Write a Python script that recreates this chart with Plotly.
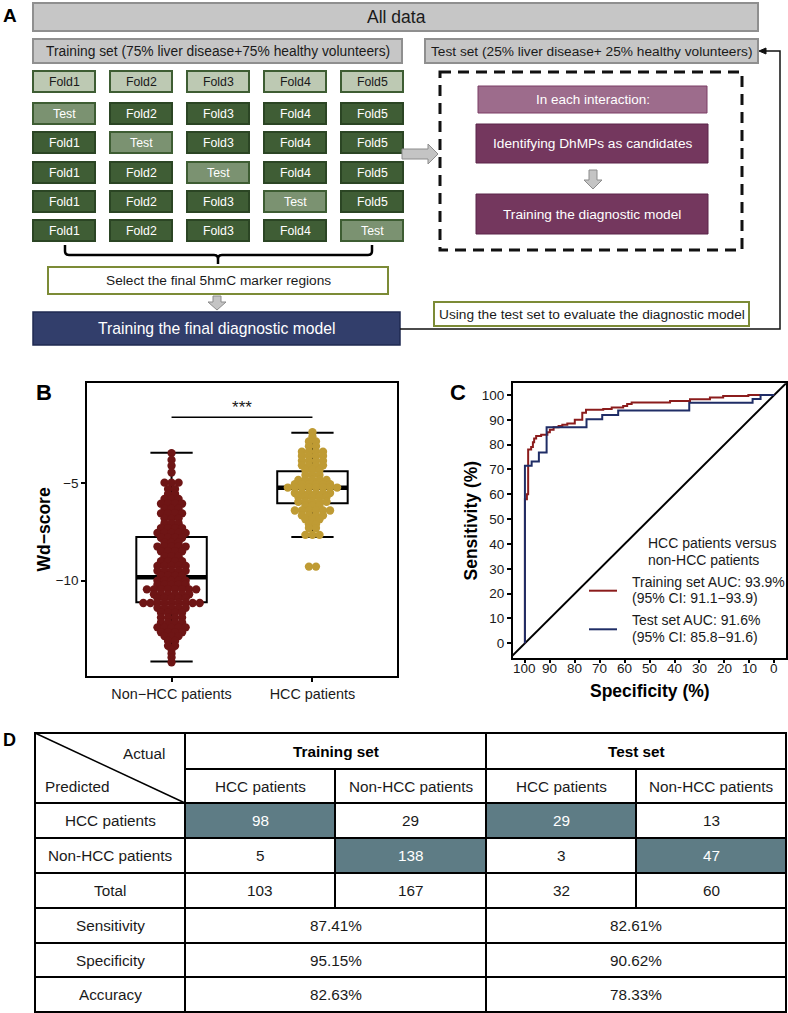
import plotly.graph_objects as go

W, H = 788, 1013
FONT = "Liberation Sans, Arial, sans-serif"
INK = "#1a1a1a"

# ---------------- Panel A content ----------------
all_label = "All data"
train_label = "Training set (75% liver disease+75% healthy volunteers)"
test_label = "Test set (25% liver disease+ 25% healthy volunteers)"
fold_labels = ["Fold1", "Fold2", "Fold3", "Fold4", "Fold5"]
test_cell_label = "Test"
select_label = "Select the final 5hmC marker regions"
final_label = "Training the final diagnostic model"
iter_labels = ["In each interaction:", "Identifying DhMPs as candidates", "Training the diagnostic model"]
eval_label = "Using the test set to evaluate the diagnostic model"

# ---------------- Panel B data ----------------
b_groups = ["Non−HCC patients", "HCC patients"]
nonhcc_vals = [-3.45, -3.8, -4.1, -4.45, -4.97, -5.3, -5.55, -5.8, -6.05, -6.3, -6.55, -6.8,
               -7.05, -7.3, -7.55, -7.8, -8.05, -8.25, -8.5, -8.75, -9.0, -9.25, -9.5, -9.75,
               -10.0, -10.2, -10.45, -10.7, -10.9, -11.15, -11.4, -11.65, -11.9, -12.15,
               -12.4, -12.65, -12.85, -13.1, -13.35, -13.55, -13.75, -13.95, -14.2]
nonhcc_counts = [1, 1, 1, 1, 3, 2, 2, 3, 4, 3, 4, 3,
                 3, 4, 5, 4, 3, 5, 4, 3, 4, 5, 5, 4,
                 5, 5, 8, 6, 5, 9, 5, 4, 4, 4,
                 5, 4, 3, 2, 2, 1, 1, 1, 1]
hcc_vals = [-2.38, -2.6, -2.85, -3.1, -3.38, -3.6, -3.85, -4.08, -4.32, -4.58, -4.83, -5.05,
            -5.22, -5.5, -5.7, -5.95, -6.15, -6.4, -6.65, -6.85, -7.1, -7.3, -7.65, -9.28]
hcc_counts = [1, 1, 2, 2, 4, 4, 4, 4, 3, 3, 5, 6,
              8, 6, 5, 5, 3, 6, 4, 3, 2, 2, 3, 2]
box_q1 = [-11.11, -6.03]
box_median = [-9.83, -5.23]
box_q3 = [-7.76, -4.38]
box_lower = [-14.16, -7.76]
box_upper = [-3.43, -2.40]
b_yticks = [-5, -10]
b_yticklabels = ["−5", "−10"]
sig_label = "***"
sig_y = -1.61
b_colors = ["#6E1515", "#BF9B34"]

# ---------------- Panel C data ----------------
train_spec = [100, 100, 99.2, 98.7, 97.5, 96.8, 96.3, 95.5, 93.5, 91, 90, 88.5, 86.5, 85, 83,
              80, 77, 75.5, 68.6, 65.2, 60.6, 59, 57.2, 41.8, 33.8, 25.8, 20.5, 10.4, 0]
train_sens = [0, 58, 60, 78, 79, 81, 82.5, 83.5, 84, 85, 86, 87, 87.5, 88, 88.5,
              90, 92.8, 94, 94.4, 95, 95.6, 96.4, 97, 97.6, 98.3, 99, 99.6, 100, 100]
test_spec = [100, 100, 97.3, 94.4, 91.3, 75.3, 69, 62.6, 34.1, 8.7, 5.5, 0]
test_sens = [0, 71.5, 73.2, 76.8, 87, 90.2, 91.9, 93.7, 96.9, 98.4, 100, 100]
c_ticks = [0, 10, 20, 30, 40, 50, 60, 70, 80, 90, 100]
c_legend_title = ["HCC patients versus", "non-HCC patients"]
c_train_text = ["Training set AUC: 93.9%", "(95% CI: 91.1−93.9)"]
c_test_text = ["Test set AUC: 91.6%", "(95% CI: 85.8−91.6)"]
c_colors = ["#8B1C1C", "#1F2D66"]

# ---------------- Panel D data ----------------
d_set_labels = ["Training set", "Test set"]
d_col_labels = ["HCC patients", "Non-HCC patients"]
d_row_labels = ["HCC patients", "Non-HCC patients", "Total"]
train_counts = [[98, 29], [5, 138], [103, 167]]
test_counts = [[29, 13], [3, 47], [32, 60]]
metric_labels = ["Sensitivity", "Specificity", "Accuracy"]
train_metrics = ["87.41%", "95.15%", "82.63%"]
test_metrics = ["82.61%", "90.62%", "78.33%"]

# =====================================================================
shapes = []
annotations = []


def rect(x0, y0, x1, y1, fill, line, lw=1.5, dash=None):
    ln = dict(color=line, width=lw)
    if dash:
        ln["dash"] = dash
    shapes.append(dict(type="rect", xref="x3", yref="y3", x0=x0, y0=y0, x1=x1, y1=y1,
                       fillcolor=fill, line=ln, layer="above"))


def path(d, color="black", lw=1.5, fill=None):
    s = dict(type="path", xref="x3", yref="y3", path=d, line=dict(color=color, width=lw), layer="above")
    if fill:
        s["fillcolor"] = fill
    shapes.append(s)


def text(x, y, s, size, color=INK, bold=False, xanchor="center", yanchor="middle", angle=0, xref="x3"):
    annotations.append(dict(xref=xref, yref="y3", x=x, y=y, text=("<b>%s</b>" % s if bold else s),
                            showarrow=False, font=dict(family=FONT, size=size, color=color),
                            xanchor=xanchor, yanchor=yanchor, textangle=angle))


# ---------------- Panel A ----------------
text(10, 15, "A", 19, "black", bold=True)
GRAY_F, GRAY_L = "#C6C6C6", "#8F8F8F"
rect(33, 3, 758, 31, GRAY_F, GRAY_L, 2)
text(396, 17, all_label, 17.5)
rect(33, 39, 402, 63, GRAY_F, GRAY_L, 2)
text(217.5, 51, train_label, 13.8)
rect(425, 39, 758, 63, GRAY_F, GRAY_L, 2)
text(591.5, 51, test_label, 13.7)

row_tops = [71, 103, 132, 162, 191, 220]
for r, top in enumerate(row_tops):
    for c, lab in enumerate(fold_labels):
        x0 = 33 + c * 77
        if r == 0:
            fill, line, tc, s = "#BDC9B3", "#3E5D33", INK, lab
        elif c == r - 1:
            fill, line, tc, s = "#7B9271", "#3E5D33", "white", test_cell_label
        else:
            fill, line, tc, s = "#3F5D35", "#2B4524", "white", lab
        rect(x0, top, x0 + 62, top + 21, fill, line, 2)
        text(x0 + 31, top + 10.5, s, 12.3, tc)

path("M 65,245 L 65,251 Q 65,255 69,255 L 214,255 Q 218,255 218,259 L 218,264 "
     "M 218,259 Q 218,255 222,255 L 368,255 Q 372,255 372,251 L 372,245", "black", 2.5)
rect(48, 267, 388, 294, "white", "#7C8B36", 2)
text(218, 280.5, select_label, 13.7)
path("M 213,296 L 221,296 L 221,302 L 226,302 L 217,310 L 208,302 L 213,302 Z", "#8C8C8C", 1, "#C4C4C4")
rect(33, 312, 400, 345, "#323E6B", "#1F2A52", 1.5)
text(216.5, 328.5, final_label, 15.7, "white")

path("M 402,149 L 428,149 L 428,144 L 438,154 L 428,164 L 428,159 L 402,159 Z", "#8C8C8C", 1, "#C4C4C4")
rect(440, 72, 742, 250, "rgba(0,0,0,0)", "#111111", 3, dash="11px,7px")
rect(478, 86, 707, 113, "#9D6C8C", "#7A3D65", 1)
text(592.5, 99.5, iter_labels[0], 13.5, "white")
rect(476, 124, 708, 163, "#74375E", "#5A2448", 1)
text(592, 143.5, iter_labels[1], 13.7, "white")
path("M 589,170 L 597,170 L 597,180 L 602,180 L 593,189 L 584,180 L 589,180 Z", "#8C8C8C", 1, "#C4C4C4")
rect(476, 194, 708, 234, "#74375E", "#5A2448", 1)
text(592, 214, iter_labels[2], 13.7, "white")

path("M 400,329 L 780,329 L 780,51 L 765,51", "#111111", 1.5)
path("M 759,51 L 766,48 L 766,54 Z", "#111111", 1, "#111111")
rect(434, 302, 749, 326, "white", "#7C8B36", 2)
text(591.5, 314, eval_label, 13.7)

# ---------------- Panel B ----------------
text(44, 392, "B", 22, "black", bold=True)
text(43, 529.5, "Wd−score", 17.5, "black", bold=True, angle=-90)

# ---------------- Panel C ----------------
text(458, 392, "C", 22, "black", bold=True)
text(470, 520.5, "Sensitivity (%)", 17.5, "black", bold=True, angle=-90)
text(650, 691, "Specificity (%)", 17.5, "black", bold=True)
for t in c_ticks:
    text(t, 668, str(t), 13.5, INK, xref="x2")
text(646, 543.3, c_legend_title[0], 14, INK, xanchor="left")
text(646, 560, c_legend_title[1], 14, INK, xanchor="left")
text(630, 581.7, c_train_text[0], 14, INK, xanchor="left")
text(630, 598.3, c_train_text[1], 14, INK, xanchor="left")
text(630, 620, c_test_text[0], 14, INK, xanchor="left")
text(630, 636.7, c_test_text[1], 14, INK, xanchor="left")
path("M 589,590.7 L 617,590.7", c_colors[0], 2)
path("M 589,629.3 L 617,629.3", c_colors[1], 2)

# ---------------- Panel D ----------------
text(9, 740, "D", 18, "black", bold=True)
ry = [733, 769, 803, 838, 873, 908, 943, 977, 1012]
cx = [35, 185, 335, 486, 636, 786]
HL = "#5E7C85"
for ci, ri in [(1, 2), (2, 3), (3, 2), (4, 3)]:
    rect(cx[ci], ry[ri], cx[ci + 1], ry[ri + 1], HL, HL, 0)
TL = 2
shapes.append(dict(type="rect", xref="x3", yref="y3", x0=cx[0], y0=ry[0], x1=cx[-1], y1=ry[-1],
                   line=dict(color="black", width=TL), layer="above"))
path("M %g,%g L %g,%g" % (cx[1], ry[1], cx[-1], ry[1]), "black", TL)
for y in ry[2:-1]:
    path("M %g,%g L %g,%g" % (cx[0], y, cx[-1], y), "black", TL)
for x in [cx[1], cx[3]]:
    path("M %g,%g L %g,%g" % (x, ry[0], x, ry[-1]), "black", TL)
for x in [cx[2], cx[4]]:
    path("M %g,%g L %g,%g" % (x, ry[1], x, ry[5]), "black", TL)
path("M %g,%g L %g,%g" % (cx[0], ry[0], cx[1], ry[2]), "black", 1.5)

FS = 15.3
text(144, 753, "Actual", FS)
text(43, 786, "Predicted", FS, xanchor="left")
text((cx[1] + cx[3]) / 2, (ry[0] + ry[1]) / 2, d_set_labels[0], FS, "black", bold=True)
text((cx[3] + cx[5]) / 2, (ry[0] + ry[1]) / 2, d_set_labels[1], FS, "black", bold=True)
for j in range(4):
    text((cx[j + 1] + cx[j + 2]) / 2, (ry[1] + ry[2]) / 2, d_col_labels[j % 2], FS)
for i, lab in enumerate(d_row_labels):
    yc = (ry[i + 2] + ry[i + 3]) / 2
    text((cx[0] + cx[1]) / 2, yc, lab, FS)
    vals = train_counts[i] + test_counts[i]
    for j, v in enumerate(vals):
        hl = (i == 0 and j in (0, 2)) or (i == 1 and j in (1, 3))
        text((cx[j + 1] + cx[j + 2]) / 2, yc, str(v), FS, "white" if hl else INK)
for i, lab in enumerate(metric_labels):
    yc = (ry[i + 5] + ry[i + 6]) / 2
    text((cx[0] + cx[1]) / 2, yc, lab, FS)
    text((cx[1] + cx[3]) / 2, yc, train_metrics[i], FS)
    text((cx[3] + cx[5]) / 2, yc, test_metrics[i], FS)

# ---------------- traces ----------------
fig = go.Figure()

for g in range(2):
    fig.add_trace(go.Box(x=[g], q1=[box_q1[g]], median=[box_median[g]], q3=[box_q3[g]],
                         lowerfence=[box_lower[g]], upperfence=[box_upper[g]],
                         width=0.5, whiskerwidth=0.6, boxpoints=False,
                         fillcolor="rgba(0,0,0,0)", line=dict(color="black", width=2),
                         showlegend=False, hoverinfo="skip", xaxis="x", yaxis="y"))
    fig.add_trace(go.Scatter(x=[g - 0.25, g + 0.25], y=[box_median[g]] * 2, mode="lines",
                             line=dict(color="black", width=4.5), showlegend=False,
                             hoverinfo="skip", xaxis="x", yaxis="y"))

DX = 0.05
for g, (vals, counts) in enumerate([(nonhcc_vals, nonhcc_counts), (hcc_vals, hcc_counts)]):
    xs, ys = [], []
    for v, n in zip(vals, counts):
        for i in range(n):
            xs.append(g + (i - (n - 1) / 2) * DX)
            ys.append(v)
    fig.add_trace(go.Scatter(x=xs, y=ys, mode="markers",
                             marker=dict(size=8.3, color=b_colors[g], line=dict(width=0)),
                             showlegend=False, hoverinfo="skip", xaxis="x", yaxis="y"))

fig.add_trace(go.Scatter(x=[0, 1], y=[sig_y, sig_y], mode="lines", line=dict(color="black", width=1.5),
                         showlegend=False, hoverinfo="skip", xaxis="x", yaxis="y"))
fig.add_trace(go.Scatter(x=[0.5], y=[sig_y], mode="text", text=[sig_label], textposition="top center",
                         textfont=dict(family=FONT, size=17, color=INK),
                         showlegend=False, hoverinfo="skip", xaxis="x", yaxis="y"))

fig.add_trace(go.Scatter(x=[110, -10], y=[-10, 110], mode="lines", line=dict(color="black", width=2),
                         showlegend=False, hoverinfo="skip", xaxis="x2", yaxis="y2"))
fig.add_trace(go.Scatter(x=train_spec, y=train_sens, mode="lines", line=dict(color=c_colors[0], width=2, shape="hv"),
                         showlegend=False, hoverinfo="skip", xaxis="x2", yaxis="y2"))
fig.add_trace(go.Scatter(x=test_spec, y=test_sens, mode="lines", line=dict(color=c_colors[1], width=2, shape="hv"),
                         showlegend=False, hoverinfo="skip", xaxis="x2", yaxis="y2"))

fig.add_trace(go.Scatter(x=[0], y=[0], mode="markers", marker=dict(opacity=0), showlegend=False,
                         hoverinfo="skip", xaxis="x3", yaxis="y3"))


def pxx(a, b):
    return [a / W, b / W]


def pxy(top, bottom):
    return [1 - bottom / H, 1 - top / H]


axis_common = dict(showline=True, linecolor="black", linewidth=1.5, mirror=True, showgrid=False,
                   zeroline=False, ticks="outside", ticklen=4, tickwidth=1.5, tickcolor="black",
                   fixedrange=True)

fig.update_layout(
    width=W, height=H, autosize=False,
    margin=dict(l=0, r=0, t=0, b=0, pad=0),
    paper_bgcolor="white", plot_bgcolor="rgba(0,0,0,0)",
    font=dict(family=FONT, color=INK),
    showlegend=False,
    xaxis=dict(domain=pxx(87, 397), range=[-0.6, 1.6], tickvals=[0, 1], ticktext=b_groups,
               tickfont=dict(size=14.4, color=INK), anchor="y", **axis_common),
    yaxis=dict(domain=pxy(383, 676), range=[-14.9, 0.15], tickvals=b_yticks, ticktext=b_yticklabels,
               tickfont=dict(size=13.5, color=INK), anchor="x", **axis_common),
    xaxis2=dict(domain=pxx(512.7, 786), range=[104.9, -4.7], tickvals=c_ticks, showticklabels=False,
                anchor="y2", **axis_common),
    yaxis2=dict(domain=pxy(383.3, 657.7), range=[-5.8, 104.7], tickvals=c_ticks,
                tickfont=dict(size=13.5, color=INK), anchor="x2", **axis_common),
    xaxis3=dict(domain=[0, 1], range=[0, W], visible=False, fixedrange=True, anchor="y3"),
    yaxis3=dict(domain=[0, 1], range=[H, 0], visible=False, fixedrange=True, anchor="x3"),
    shapes=shapes,
    annotations=annotations,
)

fig.write_html("out.html", include_plotlyjs=True, config={"displayModeBar": False},
               post_script="document.body.style.margin='0';")
